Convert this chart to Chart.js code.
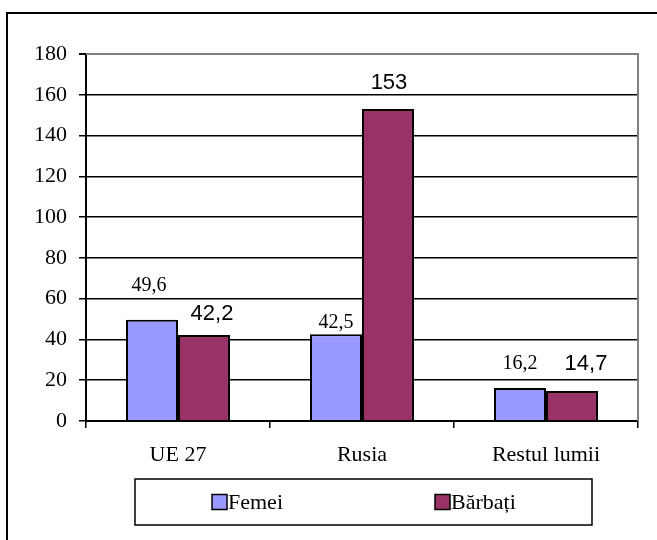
<!DOCTYPE html>
<html>
<head>
<meta charset="utf-8">
<script src="https://cdn.jsdelivr.net/npm/chart.js@4"></script>
<style>
  html, body { margin: 0; padding: 0; background: #fff; }
  #wrap { position: relative; width: 657px; height: 540px; }
  canvas { display: block; }
</style>
</head>
<body>
<div id="wrap"><canvas id="c" width="657" height="540"></canvas></div>
<script>
const categories = ['UE 27', 'Rusia', 'Restul lumii'];
const seriesNames = ['Femei', 'Bărbați'];
const femei = [49.6, 42.5, 16.2];
const barbati = [42.2, 153, 14.7];
const yTicks = [0, 20, 40, 60, 80, 100, 120, 140, 160, 180];

const SERIF = '"Liberation Serif", "Times New Roman", serif';
const SANS = '"Liberation Sans", Arial, sans-serif';

const frame = {
  id: 'frame',
  beforeDraw(chart) {
    const ctx = chart.ctx;
    ctx.save();
    ctx.fillStyle = '#fff';
    ctx.fillRect(0, 0, chart.width, chart.height);
    ctx.strokeStyle = '#000';
    ctx.lineWidth = 2;
    ctx.beginPath();
    ctx.moveTo(7, chart.height + 5);
    ctx.lineTo(7, 13);
    ctx.lineTo(chart.width + 5, 13);
    ctx.stroke();
    ctx.restore();
  },
  beforeDatasetsDraw(chart) {
    const a = chart.chartArea, ctx = chart.ctx;
    ctx.save();
    ctx.strokeStyle = '#808080';
    ctx.lineWidth = 2;
    ctx.beginPath();
    ctx.moveTo(a.left, a.top);
    ctx.lineTo(a.right, a.top);
    ctx.lineTo(a.right, a.bottom);
    ctx.stroke();
    ctx.restore();
  }
};

const valueLabels = {
  id: 'valueLabels',
  afterDatasetsDraw(chart, args, opts) {
    const ctx = chart.ctx;
    ctx.save();
    ctx.fillStyle = '#000';
    ctx.textAlign = 'center';
    ctx.textBaseline = 'middle';
    chart.data.datasets.forEach((ds, di) => {
      const meta = chart.getDatasetMeta(di);
      ctx.font = opts.fonts[di];
      meta.data.forEach((bar, i) => {
        const off = opts.offsets[di][i];
        const txt = String(ds.data[i]).replace('.', ',');
        ctx.fillText(txt, bar.x + off[0], bar.y + off[1]);
      });
    });
    ctx.restore();
  }
};

const boxLegend = {
  id: 'boxLegend',
  afterDraw(chart, args, opts) {
    const ctx = chart.ctx;
    ctx.save();
    ctx.strokeStyle = '#000';
    ctx.lineWidth = 1.5;
    ctx.strokeRect(opts.box[0], opts.box[1], opts.box[2], opts.box[3]);
    ctx.font = '22px ' + SERIF;
    ctx.textBaseline = 'middle';
    ctx.textAlign = 'left';
    const cy = opts.box[1] + opts.box[3] / 2;
    chart.data.datasets.forEach((ds, di) => {
      const x = opts.itemX[di];
      ctx.fillStyle = ds.backgroundColor;
      ctx.fillRect(x, cy - 7.5, 15, 15);
      ctx.lineWidth = 1.5;
      ctx.strokeRect(x, cy - 7.5, 15, 15);
      ctx.fillStyle = '#000';
      ctx.fillText(ds.label, x + 16, cy + 1);
    });
    ctx.restore();
  }
};

new Chart(document.getElementById('c'), {
  type: 'bar',
  data: {
    labels: categories,
    datasets: [
      { label: seriesNames[0], data: femei, backgroundColor: '#9999FF', borderColor: '#000', borderWidth: 2 },
      { label: seriesNames[1], data: barbati, backgroundColor: '#993366', borderColor: '#000', borderWidth: 2 }
    ]
  },
  options: {
    responsive: false,
    animation: false,
    events: [],
    layout: { padding: { left: 0, top: 54, right: 19, bottom: 0 } },
    datasets: { bar: { categoryPercentage: 0.565, barPercentage: 1 } },
    scales: {
      x: {
        afterFit(s) { s.height = 119; },
        grid: { display: true, drawOnChartArea: false, drawTicks: true, tickLength: 7, offset: true, color: '#000', lineWidth: 1.5 },
        border: { color: '#000', width: 2 },
        ticks: { color: '#000', font: { family: SERIF, size: 22 }, padding: 14 }
      },
      y: {
        min: 0, max: 180,
        afterFit(s) { s.width = 86; },
        afterBuildTicks(s) { s.ticks = yTicks.map(v => ({ value: v })); },
        grid: {
          color: c => (c.tick && c.tick.value === 180 ? '#808080' : '#000'),
          lineWidth: c => (c.tick && c.tick.value === 180 ? 2 : 1.5),
          tickColor: '#000', tickLength: 7, drawTicks: true
        },
        border: { color: '#000', width: 2 },
        ticks: { color: '#000', font: { family: SERIF, size: 22 }, padding: 12 }
      }
    },
    plugins: {
      legend: { display: false },
      tooltip: { enabled: false },
      valueLabels: {
        fonts: ['20px ' + SERIF, '22px ' + SANS],
        offsets: [
          [[-3, -34], [0, -12], [0, -24]],
          [[8, -21], [1, -26], [14, -27]]
        ]
      },
      boxLegend: { box: [135, 479, 457, 46], itemX: [212, 435] }
    }
  },
  plugins: [frame, valueLabels, boxLegend]
});
</script>
</body>
</html>
